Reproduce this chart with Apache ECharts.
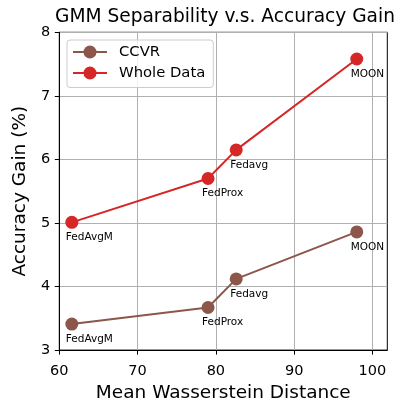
<!DOCTYPE html>
<html>
<head>
<meta charset="utf-8">
<script src="https://cdn.jsdelivr.net/npm/echarts@6/dist/echarts.min.js"></script>
<style>
html,body{margin:0;padding:0;background:#fff;}
#chart{width:396px;height:408px;}
</style>
</head>
<body>
<div id="chart"></div>
<script>
const methods = ['FedAvgM', 'FedProx', 'Fedavg', 'MOON'];
const distances = [61.6, 79.0, 82.6, 98.0];
const ccvrGain = [3.41, 3.67, 4.12, 4.86];
const wholeGain = [5.01, 5.70, 6.15, 7.58];
const xTicks = [60, 70, 80, 90, 100];
const yTicks = [3, 4, 5, 6, 7, 8];

const FONT = 'DejaVu Sans';
const chart = echarts.init(document.getElementById('chart'), null, {renderer: 'canvas'});

function pointLabel() {
  return {
    show: true,
    position: 'bottom',
    distance: 0,
    align: 'left',
    verticalAlign: 'top',
    offset: [-6, 3],
    fontFamily: FONT,
    fontSize: 10.5,
    color: '#000',
    formatter: p => methods[p.dataIndex]
  };
}

const option = {
  animation: false,
  backgroundColor: '#fff',
  title: {
    text: 'GMM Separability v.s. Accuracy Gain',
    left: 55,
    top: 8,
    padding: 0,
    textStyle: {fontFamily: FONT, fontSize: 18.6, fontWeight: 'normal', color: '#000'}
  },
  legend: {
    left: 67,
    top: 40,
    orient: 'vertical',
    padding: [4.5, 8, 7, 5],
    itemWidth: 34,
    itemHeight: 16.3,
    itemGap: 6,
    borderColor: '#cccccc',
    borderWidth: 1,
    borderRadius: 3,
    backgroundColor: 'rgba(255,255,255,0.8)',
    textStyle: {fontFamily: FONT, fontSize: 14.8, color: '#000', padding: [0, 0, 0, 7]},
    data: ['CCVR', 'Whole Data']
  },
  grid: {
    left: 59.3, right: 8.7, top: 32.3, bottom: 50.3,
    show: true, borderColor: '#000', borderWidth: 1, backgroundColor: 'transparent'
  },
  xAxis: {
    type: 'value',
    min: 60, max: 101.9, interval: 10,
    name: 'Mean Wasserstein Distance',
    nameLocation: 'middle',
    nameGap: 30,
    nameTextStyle: {fontFamily: FONT, fontSize: 18.5, color: '#000'},
    axisLine: {show: true, lineStyle: {color: '#000', width: 1}},
    axisTick: {show: true, inside: false, length: 4.5, lineStyle: {color: '#000'}, customValues: xTicks},
    axisLabel: {fontFamily: FONT, fontSize: 14.5, color: '#000', margin: 14, customValues: xTicks},
    splitLine: {show: true, lineStyle: {color: '#b0b0b0', width: 1}}
  },
  yAxis: {
    type: 'value',
    min: 3, max: 8, interval: 1,
    name: 'Accuracy Gain (%)',
    nameLocation: 'middle',
    nameGap: 25,
    nameTextStyle: {fontFamily: FONT, fontSize: 18.5, color: '#000'},
    axisLine: {show: true, lineStyle: {color: '#000', width: 1}},
    axisTick: {show: true, inside: false, length: 4.5, lineStyle: {color: '#000'}, customValues: yTicks},
    axisLabel: {fontFamily: FONT, fontSize: 14.5, color: '#000', margin: 9, customValues: yTicks},
    splitLine: {show: true, lineStyle: {color: '#b0b0b0', width: 1}}
  },
  series: [
    {
      name: 'CCVR',
      type: 'line',
      data: distances.map((d, i) => [d, ccvrGain[i]]),
      symbol: 'circle',
      symbolSize: 13,
      color: '#8c564b',
      lineStyle: {width: 2, color: '#8c564b'},
      itemStyle: {color: '#8c564b'},
      label: pointLabel(),
      z: 3
    },
    {
      name: 'Whole Data',
      type: 'line',
      data: distances.map((d, i) => [d, wholeGain[i]]),
      symbol: 'circle',
      symbolSize: 13,
      color: '#d62728',
      lineStyle: {width: 2, color: '#d62728'},
      itemStyle: {color: '#d62728'},
      label: pointLabel(),
      z: 3
    }
  ]
};
chart.setOption(option);
</script>
</body>
</html>
